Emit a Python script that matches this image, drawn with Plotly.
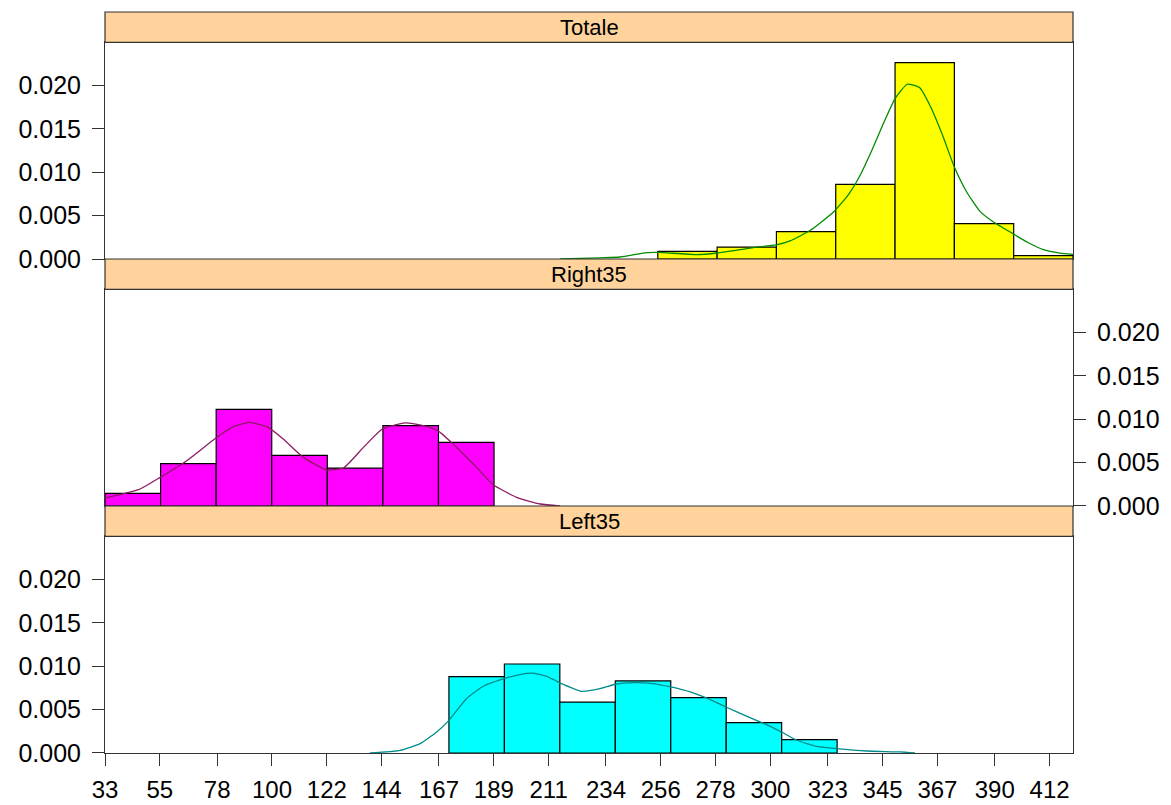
import plotly.graph_objects as go

# ---------------- data ----------------
panel_names = ["Totale", "Right35", "Left35"]

x_tick_labels = ["33", "55", "78", "100", "122", "144", "167", "189", "211",
                 "234", "256", "278", "300", "323", "345", "367", "390", "412"]
y_tick_labels = ["0.000", "0.005", "0.010", "0.015", "0.020"]

totale_edges = [254.8, 278.6, 302.4, 326.2, 350.0, 373.8, 397.6, 421.4]
totale_density = [0.00089, 0.00138, 0.00316, 0.00862, 0.02266, 0.00408, 0.00039]

right35_edges = [33.0, 55.3, 77.6, 99.9, 122.2, 144.5, 166.8, 189.1]
right35_density = [0.00145, 0.00488, 0.01115, 0.00584, 0.00438, 0.00927, 0.00734]

left35_edges = [171.0, 193.25, 215.5, 237.75, 260.0, 282.25, 304.5, 326.75]
left35_density = [0.00881, 0.01027, 0.00588, 0.00831, 0.00639, 0.00351, 0.00155]

totale_kde_x = [215.6, 231.6, 239.7, 250.4, 254.8, 270.4, 278.5, 293.2, 302.3, 307.9,
                316.0, 325.3, 331.3, 336.0, 340.7, 345.3, 350.0, 354.9, 359.8, 364.3,
                368.8, 373.8, 378.8, 384.1, 389.5, 397.9, 402.9, 409.5, 416.2, 421.4]
totale_kde_y = [0.0, 0.00014, 0.00023, 0.00074, 0.00077, 0.00051, 0.00069, 0.00132, 0.00162, 0.00208,
                0.00331, 0.00542, 0.00743, 0.00966, 0.01254, 0.01562, 0.01851, 0.02016, 0.01978, 0.01754,
                0.01447, 0.01061, 0.00770, 0.00550, 0.00427, 0.00282, 0.00196, 0.00108, 0.00069, 0.00054]

right35_kde_x = [33.0, 46.4, 55.1, 65.8, 77.5, 84.5, 90.9, 97.9, 104.5, 112.6, 122.0,
                 128.6, 136.7, 144.3, 153.4, 160.7, 166.5, 174.1, 180.8, 188.8, 198.2,
                 207.6, 215.6]
right35_kde_y = [0.00092, 0.00188, 0.00330, 0.00523, 0.00785, 0.00915, 0.00965, 0.00915, 0.00773,
                 0.00561, 0.00415, 0.00438, 0.00676, 0.00888, 0.00958, 0.00927, 0.00869, 0.00676,
                 0.00485, 0.00246, 0.00099, 0.00023, 0.0]

left35_kde_x = [139.3, 151.4, 159.4, 166.1, 171.0, 178.1, 184.8, 193.1, 199.5, 204.9, 210.3,
                215.3, 224.3, 231.6, 237.7, 245.0, 253.0, 260.0, 267.8, 275.8, 282.1, 291.8,
                299.9, 304.5, 310.6, 318.6, 326.6, 338.7, 352.0, 358.0]
left35_kde_y = [0.0, 0.00031, 0.00108, 0.00242, 0.00377, 0.00628, 0.00770, 0.00858, 0.00905,
                0.00920, 0.00885, 0.00812, 0.00712, 0.00743, 0.00793, 0.00812, 0.00801, 0.00762,
                0.00704, 0.00616, 0.00531, 0.00408, 0.00308, 0.00242, 0.00147, 0.00077, 0.00051,
                0.00023, 0.00012, 0.0]

# ---------------- styling ----------------
W, H = 1171, 805
M_L, M_R, M_T, M_B = 105, 98, 12, 52
PLOT_H = H - M_T - M_B
STRIP_H = 30.3
PANEL_H = (PLOT_H - 3 * STRIP_H) / 3
X_RANGE = [33, 421.4]
Y_RANGE = [0, 0.025]
STRIP_FILL = "#FFD39B"
FRAME = "#333333"
FONT = "Liberation Sans, Arial, sans-serif"

bar_fill = ["#FFFF00", "#FF00FF", "#00FFFF"]
kde_color = ["#008B00", "#8B1C62", "#008B8B"]

edges_all = [totale_edges, right35_edges, left35_edges]
dens_all = [totale_density, right35_density, left35_density]
kx_all = [totale_kde_x, right35_kde_x, left35_kde_x]
ky_all = [totale_kde_y, right35_kde_y, left35_kde_y]


def frac(px_from_top):
    v = (H - M_B - px_from_top) / PLOT_H
    return round(min(1.0, max(0.0, v)), 6)


fig = go.Figure()
axis_ids = ["3", "2", ""]  # top, middle, bottom
shapes = []
annotations = []

for i, name in enumerate(panel_names):
    aid = axis_ids[i]
    xref = "x" + aid
    yref = "y" + aid
    edges = edges_all[i]
    dens = dens_all[i]
    centers = [(edges[k] + edges[k + 1]) / 2 for k in range(len(dens))]
    widths = [edges[k + 1] - edges[k] for k in range(len(dens))]
    fig.add_trace(go.Bar(
        x=centers, y=dens, width=widths, xaxis=xref, yaxis=yref,
        marker=dict(color=bar_fill[i], line=dict(color="black", width=1.2)),
        showlegend=False, hoverinfo="skip"))
    fig.add_trace(go.Scatter(
        x=kx_all[i], y=ky_all[i], mode="lines", xaxis=xref, yaxis=yref,
        line=dict(color=kde_color[i], width=1.3, shape="spline", smoothing=0.5),
        showlegend=False, hoverinfo="skip"))

    top_px = M_T + i * (STRIP_H + PANEL_H)
    strip_bot = top_px + STRIP_H
    panel_bot = strip_bot + PANEL_H
    dom = [frac(panel_bot), frac(strip_bot)]

    is_bottom = (i == 2)
    side = "right" if i == 1 else "left"

    xa = dict(range=X_RANGE, domain=[0, 1], anchor=yref, automargin=False,
              showgrid=False, zeroline=False, showline=True, linecolor=FRAME,
              linewidth=1, mirror=True,
              tickmode="array",
              tickvals=[float(t) for t in x_tick_labels],
              ticktext=x_tick_labels,
              ticks="outside" if is_bottom else "",
              ticklen=12, tickcolor=FRAME, tickwidth=1,
              showticklabels=is_bottom,
              ticklabelstandoff=3,
              tickfont=dict(family=FONT, size=24, color="black"))
    if aid != "":
        xa["matches"] = "x"
    ya = dict(range=Y_RANGE, domain=dom, anchor=xref, side=side, automargin=False,
              showgrid=False, zeroline=False, showline=True, linecolor=FRAME,
              linewidth=1, mirror=True,
              tickmode="array",
              tickvals=[float(t) for t in y_tick_labels],
              ticktext=y_tick_labels,
              ticks="outside", ticklen=12, tickcolor=FRAME, tickwidth=1,
              ticklabelstandoff=6,
              tickfont=dict(family=FONT, size=25, color="black"))
    fig.layout["xaxis" + aid] = xa
    fig.layout["yaxis" + aid] = ya

    shapes.append(dict(type="rect", xref="paper", yref="paper",
                       x0=0, x1=1, y0=frac(strip_bot), y1=frac(top_px),
                       fillcolor=STRIP_FILL, line=dict(color=FRAME, width=1.2),
                       layer="above"))
    annotations.append(dict(xref="paper", yref="paper", x=0.5,
                            y=(frac(strip_bot) + frac(top_px)) / 2,
                            text=name, showarrow=False, xanchor="center",
                            yanchor="middle",
                            font=dict(family=FONT, size=22, color="black")))

fig.update_layout(
    width=W, height=H, autosize=False,
    margin=dict(l=M_L, r=M_R, t=M_T, b=M_B, autoexpand=False),
    paper_bgcolor="white", plot_bgcolor="white",
    barmode="overlay",
    shapes=shapes, annotations=annotations,
    showlegend=False,
)

# remove the default page margin so the figure sits exactly in the window
fig.write_html("out.html",
               config={"displayModeBar": False},
               post_script="document.body.style.margin='0';"
                           "document.body.style.overflow='hidden';")
